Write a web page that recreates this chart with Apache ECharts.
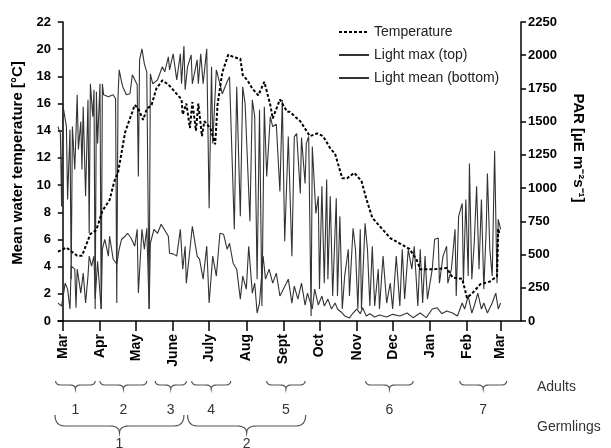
<!DOCTYPE html>
<html><head><meta charset="utf-8">
<script src="https://cdn.jsdelivr.net/npm/echarts@6/dist/echarts.min.js"></script>
<style>html,body{margin:0;padding:0;background:#fff}#c{width:611px;height:448px}</style>
</head><body><div id="c"></div>
<script>
const FONT = '"Liberation Sans", Arial, sans-serif';
const monthDays = [0,31,61,92,122,153,184,214,245,275,306,337,365];
const monthLabels = ['Mar','Apr','May','June','July','Aug','Sept','Oct','Nov','Dec','Jan','Feb','Mar'];
const tempTicks = [0,2,4,6,8,10,12,14,16,18,20,22];
const parTicks = [0,250,500,750,1000,1250,1500,1750,2000,2250];

const tempDays = [-4,3,12,16,23,28,33,39,43,46,52,56,60,63,67,70,74,78,83,88,93,99,100,103,106,108,111,113,116,118,123,127,129,133,138,143,148,150,154,158,163,168,173,175,181,187,189,198,206,212,217,223,227,233,237,243,249,253,258,264,273,281,289,295,298,308,320,325,333,337,342,348,356,362,363,364];
const tempValues = [5.1,5.4,4.8,4.8,6.4,6.7,8.1,8.9,10.3,10.9,13.9,14.9,15.9,15.6,14.8,15.6,15.9,17.1,17.7,17.4,16.9,16.3,15.2,16.0,14.2,16.1,14.0,16.0,13.6,14.7,14.2,13.0,15.9,18.3,19.6,19.4,19.3,18.1,17.7,17.1,16.6,17.6,15.9,14.9,16.3,15.4,15.4,14.7,13.6,13.8,13.6,12.7,12.3,10.5,10.5,10.9,10.3,9.0,7.6,7.0,6.1,5.7,5.3,4.5,3.8,3.8,3.9,3.2,3.1,1.7,2.1,2.7,2.9,3.3,6.8,6.4];

const maxDays = [-4,-2,-1,0,3,4,6,7,8,10,12,13,15,16,17,19,21,22,23,25,26,27,28,29,31,32,33,34,38,42,44,45,46,47,49,50,53,56,58,62,63,64,66,68,70,72,73,75,79,83,85,88,89,92,95,98,99,101,102,104,107,108,112,113,115,117,120,122,124,125,128,131,133,137,139,143,145,148,150,152,156,158,160,162,164,166,168,170,173,175,178,181,183,185,188,191,193,195,198,199,202,203,205,207,208,211,213,214,216,218,220,221,223,225,228,229,231,233,235,238,239,242,244,246,248,249,252,254,256,258,260,263,264,267,270,273,275,278,281,283,285,288,291,293,296,298,300,302,304,308,310,313,314,317,320,321,324,327,328,330,333,334,336,338,339,341,343,345,347,349,351,353,354,356,358,360,362,363,365];
const maxValues = [1463,1410,862,1628,1463,915,1440,315,1463,1140,1703,1290,1500,1140,1613,938,1665,660,1785,1538,1740,90,1725,1335,1785,90,1785,1703,1688,1703,1673,135,1680,1890,1800,1763,1703,1710,1853,1778,1088,1965,2048,1935,1875,90,1860,1785,1815,1913,1875,1988,1890,2010,1815,2010,1785,2070,1740,1913,2003,1785,1965,1785,2010,1785,2048,848,1913,1335,1890,1785,1710,1800,1838,690,1763,788,1763,1635,750,1665,1538,315,1590,113,1613,1088,1538,1463,1480,975,1665,600,1388,488,1388,1410,960,1380,1035,1335,1388,38,1313,810,938,240,1013,285,1065,315,938,188,923,188,788,90,338,540,188,698,540,90,690,90,735,540,113,563,113,390,90,488,135,285,90,488,113,540,165,540,390,563,113,540,135,488,165,390,615,625,285,488,563,285,390,690,188,788,885,285,915,338,1185,315,585,1013,390,915,240,690,1110,540,338,1280,285,765,690];

const meanDays = [-4,-1,2,4,6,7,10,11,12,15,17,19,21,22,24,26,27,29,32,33,35,38,39,42,45,47,49,52,54,57,60,62,63,66,68,70,72,73,76,79,82,84,88,89,92,95,98,100,102,103,106,108,112,114,117,120,122,125,128,131,134,137,139,142,145,148,150,153,155,158,160,162,164,167,169,172,175,178,181,185,188,191,193,196,199,202,204,208,210,213,216,218,221,224,227,229,233,235,239,242,245,248,250,253,256,260,264,270,275,281,287,292,298,303,308,312,316,320,325,329,333,335,338,341,343,346,349,351,354,358,361,363,365];
const meanValues = [135,113,285,240,90,413,390,100,390,210,360,135,338,488,413,488,165,450,90,540,615,488,638,465,428,540,615,638,660,623,563,690,210,690,540,698,90,585,690,660,728,698,638,510,505,488,690,390,563,285,540,713,488,465,315,563,135,488,338,660,653,540,585,435,390,165,338,240,563,210,285,60,135,488,315,390,285,360,188,260,315,135,263,165,285,120,210,90,240,120,188,113,165,90,135,90,60,38,23,60,90,55,100,38,55,30,45,30,50,38,60,25,60,25,90,100,55,75,60,38,135,90,188,60,113,210,90,135,60,135,210,90,135];

const adultPeriods = [[-6,27],[31,70],[77,103],[107.5,140],[170,202],[252.5,292],[331,370]];
const adultLabels = ['1','2','3','4','5','6','7'];
const germlingPeriods = [[-6.5,101],[104,202.5]];
const germlingLabels = ['1','2'];

function pairs(xs, ys){ return xs.map((x,i)=>[x, ys[i]]); }

const SOLID_ICON = 'path://M0,0L30,0L30,2L0,2Z';
const DASH_ICON = 'path://M0,0h3v2h-3zM5,0h3v2h-3zM10,0h3v2h-3zM15,0h3v2h-3zM20,0h3v2h-3zM25,0h3v2h-3zM30,0h0v2h0z';

const chart = echarts.init(document.getElementById('c'), null, {renderer:'canvas'});
const axisLine = {show:true, lineStyle:{color:'#000', width:1.5}};
const option = {
  animation:false,
  backgroundColor:'#fff',
  textStyle:{fontFamily:FONT},
  grid:{left:58, right:90, top:22, bottom:127, containLabel:false},
  legend:{
    orient:'vertical', left:339, top:24, padding:0, itemGap:7,
    itemWidth:30, itemHeight:2,
    textStyle:{fontSize:14, color:'#222', fontFamily:FONT, lineHeight:16},
    data:[
      {name:'Temperature', icon:DASH_ICON, itemStyle:{color:'#000'}},
      {name:'Light max (top)', icon:SOLID_ICON, itemStyle:{color:'#333'}},
      {name:'Light mean (bottom)', icon:SOLID_ICON, itemStyle:{color:'#333'}}
    ]
  },
  xAxis:{
    type:'value', min:-4, max:382,
    axisLine:axisLine,
    splitLine:{show:false},
    axisTick:{show:true, length:10, lineStyle:{color:'#000', width:1.5}, customValues:monthDays},
    axisLabel:{rotate:90, margin:13, fontSize:14, fontWeight:'bold', color:'#000', fontFamily:FONT,
      customValues:monthDays,
      formatter:function(v){ const i = monthDays.indexOf(v); return i>=0 ? monthLabels[i] : ''; }}
  },
  yAxis:[{
    type:'value', min:0, max:22, interval:2, position:'left',
    axisLine:axisLine, splitLine:{show:false},
    axisTick:{show:true, length:5, lineStyle:{color:'#000', width:1.5}},
    axisLabel:{margin:7, fontSize:13, fontWeight:'bold', color:'#000', fontFamily:FONT,
      customValues:tempTicks, formatter:function(v){ return String(v); }}
  },{
    type:'value', min:0, max:2250, interval:250, position:'right',
    axisLine:axisLine, splitLine:{show:false},
    axisTick:{show:true, length:5, lineStyle:{color:'#000', width:1.5}},
    axisLabel:{margin:7, fontSize:13, fontWeight:'bold', color:'#000', fontFamily:FONT,
      customValues:parTicks, formatter:function(v){ return String(v); }}
  }],
  series:[{
    name:'Light max (top)', type:'line', yAxisIndex:1, symbol:'none', showSymbol:false,
    data:pairs(maxDays, maxValues), itemStyle:{color:'#333'},
    lineStyle:{color:'#333', width:1.1}, z:2
  },{
    name:'Light mean (bottom)', type:'line', yAxisIndex:1, symbol:'none', showSymbol:false,
    data:pairs(meanDays, meanValues), itemStyle:{color:'#333'},
    lineStyle:{color:'#333', width:1.1}, z:2
  },{
    name:'Temperature', type:'line', yAxisIndex:0, symbol:'none', showSymbol:false,
    data:pairs(tempDays, tempValues), itemStyle:{color:'#000'},
    lineStyle:{color:'#000', width:2, type:[3,2]}, z:3
  }]
};
chart.setOption(option);

function quad(p0, c, p1, n, out){
  for (let k=1;k<=n;k++){
    const t=k/n, u=1-t;
    out.push([u*u*p0[0]+2*u*t*c[0]+t*t*p1[0], u*u*p0[1]+2*u*t*c[1]+t*t*p1[1]]);
  }
}
function bracePoints(x1, x2, y0, ym, yp, r){
  const mid=(x1+x2)/2, pts=[[x1,y0]];
  quad([x1,y0],[x1,ym],[x1+r,ym],6,pts);
  pts.push([mid-r,ym]);
  quad([mid-r,ym],[mid,ym],[mid,yp],6,pts);
  quad([mid,yp],[mid,ym],[mid+r,ym],6,pts);
  pts.push([x2-r,ym]);
  quad([x2-r,ym],[x2,ym],[x2,y0],6,pts);
  return pts;
}
function px(day){ return chart.convertToPixel({xAxisIndex:0}, day); }

const g = [];
g.push({type:'text', x:18, y:163, rotation:Math.PI/2,
  style:{text:'Mean water temperature [°C]', font:'bold 15px '+FONT, fill:'#000', align:'center', verticalAlign:'middle'}});
g.push({type:'text', x:578, y:148, rotation:-Math.PI/2,
  style:{text:'PAR [µE m⁻²s⁻¹]', font:'bold 15px '+FONT, fill:'#000', align:'center', verticalAlign:'middle'}});
adultPeriods.forEach((p,i)=>{
  const a = px(p[0]), b = px(p[1]);
  g.push({type:'polyline', shape:{points:bracePoints(a,b,381,385,389,6)}, style:{stroke:'#555', lineWidth:1.2, fill:null}});
  g.push({type:'text', x:(a+b)/2, y:410, style:{text:adultLabels[i], font:'14px '+FONT, fill:'#333', align:'center', verticalAlign:'middle'}});
});
germlingPeriods.forEach((p,i)=>{
  const a = px(p[0]), b = px(p[1]);
  g.push({type:'polyline', shape:{points:bracePoints(a,b,415,426,433,10)}, style:{stroke:'#555', lineWidth:1.2, fill:null}});
  g.push({type:'text', x:(a+b)/2, y:444, style:{text:germlingLabels[i], font:'14px '+FONT, fill:'#333', align:'center', verticalAlign:'middle'}});
});
g.push({type:'text', x:537, y:387, style:{text:'Adults', font:'14px '+FONT, fill:'#333', align:'left', verticalAlign:'middle'}});
g.push({type:'text', x:537, y:427, style:{text:'Germlings', font:'14px '+FONT, fill:'#333', align:'left', verticalAlign:'middle'}});
chart.setOption({graphic:g});
</script></body></html>
